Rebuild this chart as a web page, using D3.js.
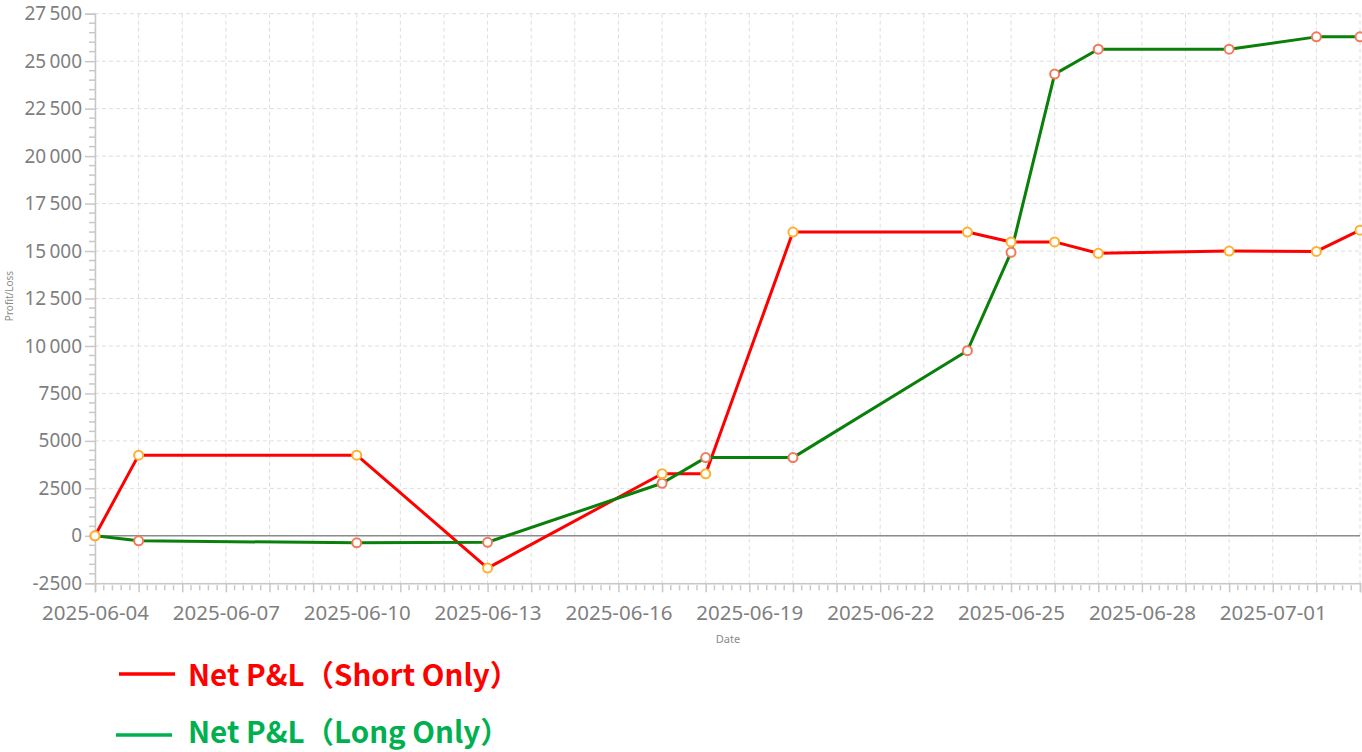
<!DOCTYPE html>
<html>
<head>
<meta charset="utf-8">
<script src="https://cdn.jsdelivr.net/npm/d3@7"></script>
<style>
  body { margin: 0; background: #fff; }
  svg { display: block; }
</style>
</head>
<body>
<div id="chart"></div>
<script>
// data
var dates = ["2025-06-04", "2025-06-05", "2025-06-10", "2025-06-13", "2025-06-17", "2025-06-18", "2025-06-20",
             "2025-06-24", "2025-06-25", "2025-06-26", "2025-06-27", "2025-06-30", "2025-07-02", "2025-07-03"];
var shortPnl = [0, 4250, 4250, -1700, 3270, 3270, 16000, 16000, 15480, 15480, 14880, 15000, 14980, 16100];
var longPnl = [0, -260, -370, -340, 2770, 4120, 4120, 9750, 14930, 24320, 25630, 25630, 26280, 26280];
var xTickLabels = ["2025-06-04", "2025-06-07", "2025-06-10", "2025-06-13", "2025-06-16",
                   "2025-06-19", "2025-06-22", "2025-06-25", "2025-06-28", "2025-07-01"];
var yTicks = [-2500, 0, 2500, 5000, 7500, 10000, 12500, 15000, 17500, 20000, 22500, 25000, 27500];
var seriesNames = ["Net P&L（Short Only）", "Net P&L（Long Only）"];

var W = 1362, H = 752;
var parse = d3.utcParse("%Y-%m-%d");

var svg = d3.select("#chart").append("svg").attr("width", W).attr("height", H);

var x = d3.scaleUtc()
    .domain([parse("2025-06-04"), parse("2025-07-03")])
    .range([95, 1360]);
var y = d3.scaleLinear()
    .domain([-2500, 27500])
    .range([583.3, 13.7]);

// 5-digit numbers get a thin space, 4-digit ones don't
var fmt = function(v) {
  var s = String(v);
  if (Math.abs(v) >= 10000) s = s.slice(0, s.length - 3) + "\u2009" + s.slice(-3);
  return s;
};

var days = d3.utcDay.range(parse("2025-06-04"), d3.utcDay.offset(parse("2025-07-03"), 1));
// fifths of a day
var minorX = [];
days.forEach(function(d) {
  for (var k = 1; k < 5; k++) minorX.push(new Date(+d + k * 864e5 / 5));
});
minorX = minorX.filter(function(d) { return d <= x.domain()[1]; });

var minorY = d3.range(-2500, 27501, 500);

var grid = svg.append("g");
// vertical daily grid
grid.selectAll(".vg").data(days).enter().append("line")
    .attr("x1", function(d) { return x(d); }).attr("x2", function(d) { return x(d); })
    .attr("y1", y(27500)).attr("y2", y(-2500))
    .attr("stroke", "#dedede").attr("stroke-width", 1).attr("stroke-dasharray", "4,3");
// horizontal grid
grid.selectAll(".hg").data(yTicks).enter().append("line")
    .attr("x1", 95).attr("x2", 1360)
    .attr("y1", function(d) { return y(d); }).attr("y2", function(d) { return y(d); })
    .attr("stroke", "#dedede").attr("stroke-width", 1).attr("stroke-dasharray", "4,3");

// y axis
var yAxis = d3.axisLeft(y).tickValues(yTicks).tickSize(10).tickPadding(3).tickFormat(fmt);
var gy = svg.append("g").attr("transform", "translate(95,0)").call(yAxis);
gy.select(".domain").attr("stroke", "#c8c8c8").attr("stroke-width", 1.5);
gy.selectAll(".tick line").attr("stroke", "#c8c8c8").attr("stroke-width", 1.5);
gy.selectAll(".tick text").attr("fill", "#7f7f7f").style("font-family", "'Noto Sans', sans-serif").style("font-size", "19px");
svg.append("g").selectAll("line").data(minorY.filter(function(v) { return yTicks.indexOf(v) < 0; }))
    .enter().append("line")
    .attr("x1", 89).attr("x2", 95)
    .attr("y1", function(d) { return y(d); }).attr("y2", function(d) { return y(d); })
    .attr("stroke", "#c8c8c8").attr("stroke-width", 1.5);

// x axis
var gx = svg.append("g").attr("transform", "translate(0," + y(-2500) + ")")
    .call(d3.axisBottom(x).tickValues(days).tickSize(9).tickPadding(13)
      .tickFormat(function(d) {
        var s = d3.utcFormat("%Y-%m-%d")(d);
        return xTickLabels.indexOf(s) >= 0 ? s : "";
      }));
gx.select(".domain").attr("stroke", "#c8c8c8").attr("stroke-width", 1.5);
gx.selectAll(".tick line").attr("stroke", "#c8c8c8").attr("stroke-width", 1.5);
gx.selectAll(".tick text").attr("fill", "#7f7f7f").style("font-family", "'Noto Sans', sans-serif").style("font-size", "20.5px");
svg.append("g").selectAll("line").data(minorX).enter().append("line")
    .attr("x1", function(d) { return x(d); }).attr("x2", function(d) { return x(d); })
    .attr("y1", y(-2500) + 2).attr("y2", y(-2500) + 7)
    .attr("stroke", "#c8c8c8").attr("stroke-width", 1.5);

// zero line
svg.append("line").attr("x1", 95).attr("x2", 1360).attr("y1", y(0)).attr("y2", y(0))
    .attr("stroke", "#8c8c8c").attr("stroke-width", 1.5);

// axis titles
svg.append("text").attr("x", 728).attr("y", 643).attr("text-anchor", "middle")
    .attr("fill", "#8a8a8a").style("font-family", "'Noto Sans', sans-serif").style("font-size", "11px").text("Date");
svg.append("text").attr("transform", "translate(13,296) rotate(-90)").attr("text-anchor", "middle")
    .attr("fill", "#8a8a8a").style("font-family", "'Noto Sans', sans-serif").style("font-size", "10px").text("Profit/Loss");

var line = d3.line().x(function(d) { return x(d.date); }).y(function(d) { return y(d.v); });
var shortData = dates.map(function(d, i) { return {date: parse(d), v: shortPnl[i]}; });
var longData = dates.map(function(d, i) { return {date: parse(d), v: longPnl[i]}; });

svg.append("path").datum(shortData).attr("d", line).attr("fill", "none")
    .attr("stroke", "#ff0000").attr("stroke-width", 3).attr("stroke-linejoin", "round");
svg.append("path").datum(longData).attr("d", line).attr("fill", "none")
    .attr("stroke", "#0a7f0a").attr("stroke-width", 3).attr("stroke-linejoin", "round");

svg.append("g").selectAll("circle").data(longData).enter().append("circle")
    .attr("cx", function(d) { return x(d.date); }).attr("cy", function(d) { return y(d.v); })
    .attr("r", 4.5).attr("fill", "#fff").attr("stroke", "#f07a5a").attr("stroke-width", 2);
svg.append("g").selectAll("circle").data(shortData).enter().append("circle")
    .attr("cx", function(d) { return x(d.date); }).attr("cy", function(d) { return y(d.v); })
    .attr("r", 4.5).attr("fill", "#fff").attr("stroke", "#ffb030").attr("stroke-width", 2);

// legend
var legendColors = ["#ff0000", "#00b050"];
var legendLines = [{x1: 119, x2: 175, y: 674}, {x1: 116, x2: 172, y: 735}];
var legendBase = [686, 743];
var lg = svg.append("g");
seriesNames.forEach(function(name, i) {
  lg.append("line").attr("x1", legendLines[i].x1).attr("x2", legendLines[i].x2)
    .attr("y1", legendLines[i].y).attr("y2", legendLines[i].y)
    .attr("stroke", legendColors[i]).attr("stroke-width", 3.5);
  lg.append("text").attr("x", 188).attr("y", legendBase[i])
    .attr("fill", legendColors[i]).style("font-family", "'Noto Sans CJK SC', sans-serif")
    .style("font-weight", "bold").style("font-size", "29.5px").text(name);
});
</script>
</body>
</html>
